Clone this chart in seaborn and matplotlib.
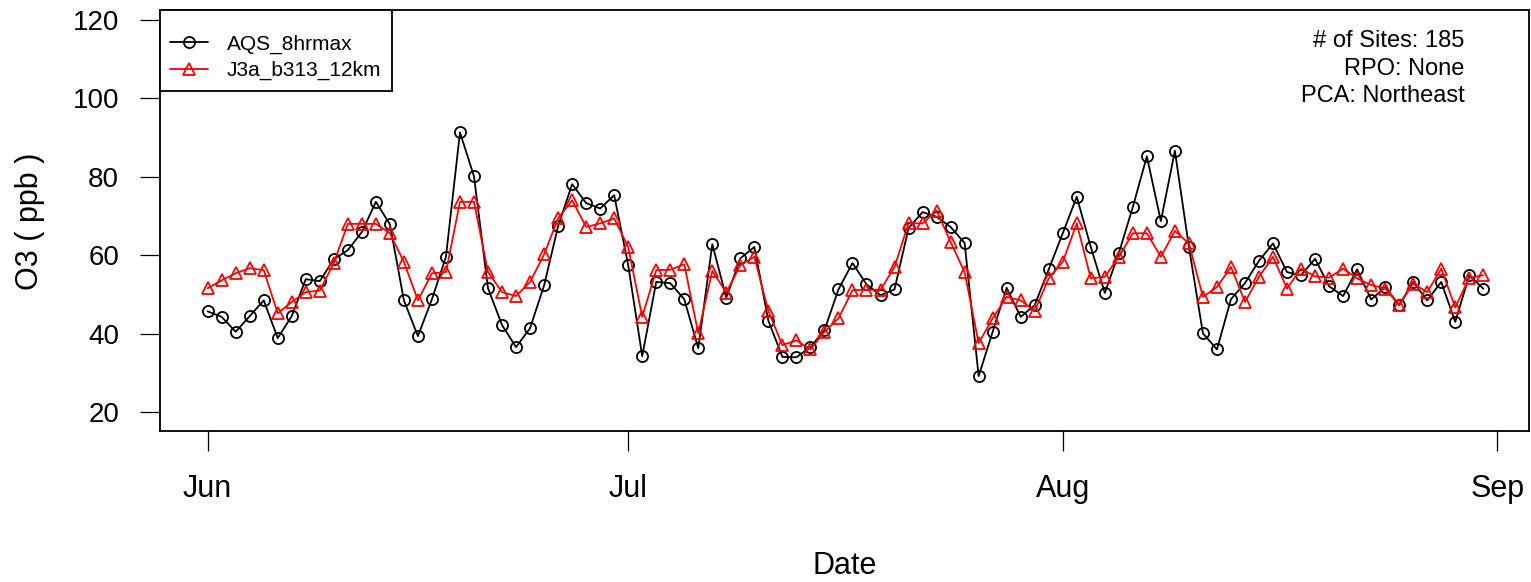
import numpy as np
import pandas as pd
import matplotlib
matplotlib.use("Agg")
import matplotlib.pyplot as plt
import matplotlib.dates as mdates
import seaborn as sns

# daily 8-hr max ozone, Jun 1 - Aug 31
dates = pd.date_range("2011-06-01", "2011-08-31", freq="D")

obs = [45.7, 44.3, 40.5, 44.5, 48.5, 38.9, 44.5, 53.9, 53.4, 59.0,
       61.3, 65.9, 73.6, 67.9, 48.5, 39.4, 48.8, 59.6, 91.3, 80.1,
       51.6, 42.2, 36.6, 41.4, 52.3, 67.4, 78.1, 73.3, 71.9, 75.3,
       57.5, 34.3, 53.2, 52.9, 48.8, 36.3, 62.8, 49.2, 59.2, 62.1,
       43.3, 34.1, 34.0, 36.6, 40.9, 51.3, 58.0, 52.6, 49.8, 51.3,
       66.9, 71.0, 69.8, 67.2, 63.1, 29.2, 40.5, 51.7, 44.3, 47.3,
       56.4,
       65.6, 74.9, 62.1, 50.4, 60.5, 72.3, 85.2, 68.7, 86.6, 62.1,
       40.1, 36.0, 48.8, 52.9, 58.6, 63.0, 55.7, 54.9, 59.1, 52.1,
       49.6, 56.4, 48.7, 51.9, 47.3, 53.2, 48.5, 53.2, 43.0, 54.9,
       51.5]

mod = [51.6, 53.6, 55.4, 56.7, 56.2, 45.2, 48.1, 50.6, 51.0, 58.0,
       68.0, 68.0, 68.0, 65.6, 58.3, 48.5, 55.4, 55.7, 73.6, 73.6,
       55.7, 50.6, 49.6, 53.2, 60.2, 69.4, 74.0, 67.2, 68.1, 69.4,
       62.1, 44.3, 56.2, 56.3, 57.7, 40.1, 56.0, 50.5, 57.5, 59.6,
       45.8, 37.1, 38.3, 36.0, 40.5, 43.9, 51.1, 51.2, 51.2, 57.0,
       68.2, 68.1, 71.4, 63.4, 55.7, 37.6, 43.9, 49.4, 48.5, 45.8,
       54.1,
       58.3, 68.1, 54.1, 54.5, 59.6, 65.6, 65.6, 59.6, 66.2, 63.0,
       49.4, 51.9, 57.0, 48.1, 54.5, 59.6, 51.5, 56.6, 54.6, 54.3,
       56.6, 54.1, 52.4, 51.5, 47.3, 52.8, 50.6, 56.6, 46.7, 54.3,
       54.9]

series_names = ["AQS_8hrmax", "J3a_b313_12km"]
series_colors = ["black", "red"]
series_marks = ["o", "^"]
month_ticks = ["2011-06-01", "2011-07-01", "2011-08-01", "2011-09-01"]
y_ticks = [20, 40, 60, 80, 100, 120]
info_lines = ["# of Sites: 185", "RPO: None", "PCA: Northeast"]

df = pd.DataFrame({
    "Date": np.tile(dates, 2),
    "O3": obs + mod,
    "run": np.repeat(series_names, len(dates)),
})

sns.set_style("ticks")
plt.rcParams["font.family"] = ["Liberation Sans", "DejaVu Sans"]
plt.rcParams["text.color"] = "black"
plt.rcParams["axes.labelcolor"] = "black"
plt.rcParams["xtick.color"] = "black"
plt.rcParams["ytick.color"] = "black"

fig = plt.figure(figsize=(15.31, 5.82), dpi=100)
ax = fig.add_axes([0.1045, 0.26, 0.894, 0.7229])

sns.lineplot(data=df, x="Date", y="O3", hue="run", style="run",
             palette=dict(zip(series_names, series_colors)),
             markers=dict(zip(series_names, series_marks)),
             dashes=False, legend=False, lw=1.3, ms=8, mew=1.3,
             mfc="none", ax=ax)

# seaborn gives white marker edges by default, make them open symbols
for ln in ax.lines:
    ln.set_markeredgecolor(ln.get_color())
    ln.set_markerfacecolor("none")

ax.set_xlim(dates[0] - pd.Timedelta(days=3.4), dates[0] + pd.Timedelta(days=94.24))
ax.set_ylim(15.3, 122.5)
ax.set_xticks(pd.to_datetime(month_ticks))
ax.xaxis.set_major_formatter(mdates.DateFormatter("%b"))
ax.set_yticks(y_ticks)

ax.tick_params(axis="y", labelsize=20, length=14.4, width=0.9, pad=15, colors="black")
ax.tick_params(axis="x", labelsize=22, length=14.4, width=0.9, pad=17, colors="black")
for sp in ax.spines.values():
    sp.set_color("black")
    sp.set_linewidth(1.3)

ax.set_ylabel("O3 ( ppb )", fontsize=22, color="black")
ax.yaxis.set_label_coords(-0.084, 0.497)
ax.set_xlabel("Date", fontsize=22, color="black")
ax.xaxis.set_label_coords(0.5, -0.286)

leg = ax.legend(handles=ax.lines[:2], labels=series_names, loc="upper left",
                bbox_to_anchor=(0, 1), borderaxespad=0, fontsize=15,
                fancybox=False, framealpha=1, edgecolor="black",
                handlelength=1.8, handletextpad=0.9, borderpad=0.5,
                labelspacing=0.35, title=" ", title_fontsize=5)
leg.get_frame().set_linewidth(1.3)
for t in leg.get_texts():
    t.set_color("black")

for txt, yy in zip(info_lines, [0.9127, 0.8456, 0.7822]):
    ax.text(0.9533, yy, txt, transform=ax.transAxes, ha="right",
            va="baseline", fontsize=17, color="black")

fig.savefig("out.png", dpi=100)
